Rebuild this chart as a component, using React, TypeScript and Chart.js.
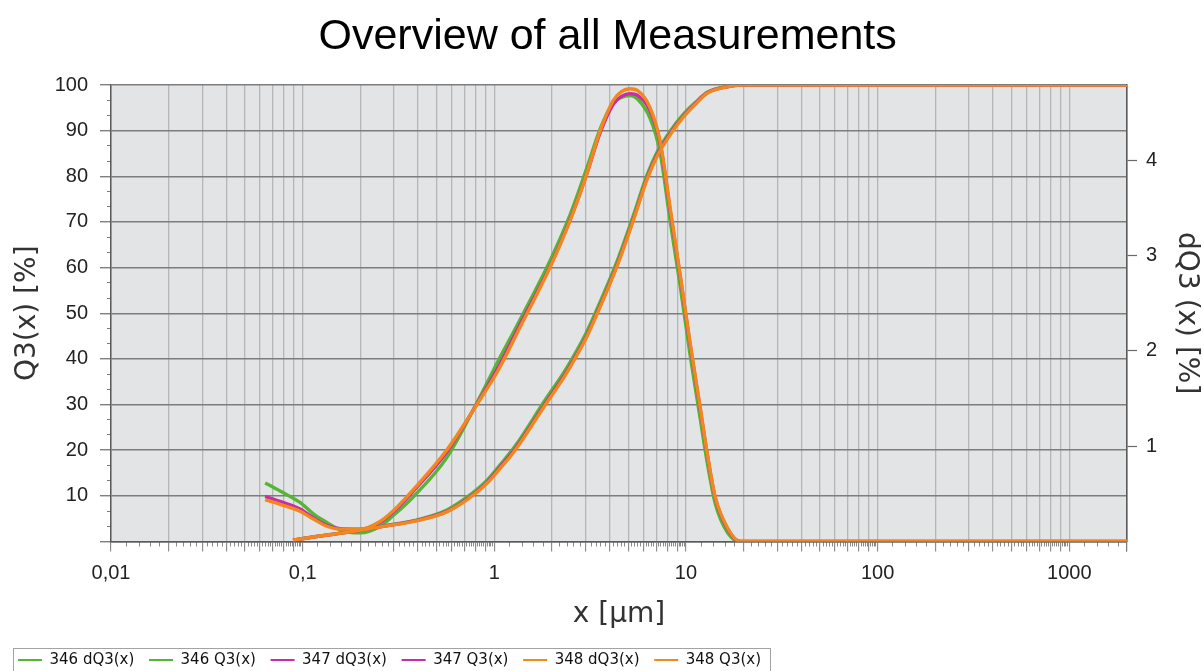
import { useEffect, useRef } from 'react';
import { Chart, registerables } from 'chart.js';

Chart.register(...registerables);

// ---------- texts ----------
const TITLE = 'Overview of all Measurements';
const X_TITLE = 'x [µm]';
const Y_LEFT_TITLE = 'Q3(x) [%]';
const Y_RIGHT_TITLE = 'dQ3 (x) [%]';
const SERIES_LABELS = ['346 dQ3(x)', '346 Q3(x)', '347 dQ3(x)', '347 Q3(x)', '348 dQ3(x)', '348 Q3(x)'];
const SERIES_COLORS = ['#55b535', '#55b535', '#c92ca4', '#c92ca4', '#f3871f', '#f3871f'];

// ---------- axes ----------
const X_MIN = 0.01;
const X_MAX = 2000;
const X_DECADES = [0.01, 0.1, 1, 10, 100, 1000];
const X_GRID_MULTIPLES = [1, 2, 3, 4, 5, 6, 7, 8, 9];
const X_MINOR_FRACTIONS = [0.2, 0.4, 0.6, 0.8];
const Y_LEFT_TICKS = [0, 10, 20, 30, 40, 50, 60, 70, 80, 90, 100];
const Y_LEFT_SUBDIVISIONS = 3;
const Y_RIGHT_MAX = 4.79;
const Y_RIGHT_TICKS = [1, 2, 3, 4];

// ---------- data: density dQ3 (right axis) ----------
const DQ3_X = [0.0637, 0.0762, 0.0969, 0.1137, 0.1336, 0.157, 0.2, 0.2535, 0.3, 0.378, 0.565, 0.843, 1.05, 1.364, 1.956, 2.487, 3.04, 3.566, 4.18, 4.6, 5.1, 5.6, 6.5, 7.33, 8.27, 9.33, 10.5, 11.86, 12.9, 14.2, 16.4, 19.2, 2000];
const DQ3_346 = [0.615, 0.53, 0.41, 0.29, 0.2, 0.12, 0.09, 0.16, 0.28, 0.47, 0.88, 1.52, 1.9, 2.33, 2.95, 3.43, 3.92, 4.33, 4.6, 4.66, 4.68, 4.64, 4.44, 4.08, 3.36, 2.68, 1.96, 1.29, 0.83, 0.4, 0.1, 0, 0];
const DQ3_347 = [0.474, 0.42, 0.34, 0.25, 0.17, 0.135, 0.13, 0.2, 0.32, 0.53, 0.94, 1.5, 1.83, 2.28, 2.89, 3.38, 3.86, 4.29, 4.59, 4.67, 4.7, 4.68, 4.52, 4.18, 3.47, 2.78, 2.07, 1.39, 0.92, 0.46, 0.14, 0, 0];
const DQ3_348 = [0.44, 0.39, 0.317, 0.235, 0.16, 0.13, 0.13, 0.21, 0.33, 0.545, 0.96, 1.49, 1.8, 2.25, 2.88, 3.37, 3.86, 4.31, 4.63, 4.72, 4.75, 4.73, 4.55, 4.2, 3.5, 2.8, 2.09, 1.41, 0.93, 0.47, 0.15, 0, 0];

// ---------- data: cumulative Q3 (left axis) ----------
const Q3_X = [0.089, 0.123, 0.177, 0.2535, 0.41, 0.565, 0.719, 0.914, 1.072, 1.284, 1.842, 2.294, 2.487, 3.0, 3.4, 4.36, 5.32, 6.25, 7.05, 8.3, 9.7, 11.2, 12.9, 16.4, 19.2, 2000];
const Q3_346 = [0.3, 1.2, 2.1, 3.3, 4.9, 6.9, 9.7, 13.4, 16.8, 20.9, 31.0, 36.9, 39.3, 45.5, 50.5, 61.3, 71.5, 80.2, 85.2, 90.0, 93.6, 96.2, 98.4, 99.7, 100, 100];
const Q3_347 = [0.3, 1.2, 2.1, 3.2, 4.8, 6.6, 9.3, 12.9, 16.3, 20.3, 30.2, 36.1, 38.5, 44.7, 49.7, 60.5, 70.7, 79.5, 84.6, 89.5, 93.2, 95.9, 98.3, 99.6, 100, 100];
const Q3_348 = [0.3, 1.2, 2.1, 3.2, 4.7, 6.5, 9.1, 12.7, 16.0, 20.0, 29.9, 35.8, 38.2, 44.4, 49.4, 60.2, 70.4, 79.2, 84.3, 89.2, 93, 95.8, 98.2, 99.6, 100, 100];

const SERIES = [
  { xs: DQ3_X, ys: DQ3_346, axis: 'y1', order: 3 },
  { xs: Q3_X, ys: Q3_346, axis: 'y', order: 3 },
  { xs: DQ3_X, ys: DQ3_347, axis: 'y1', order: 2 },
  { xs: Q3_X, ys: Q3_347, axis: 'y', order: 2 },
  { xs: DQ3_X, ys: DQ3_348, axis: 'y1', order: 1 },
  { xs: Q3_X, ys: Q3_348, axis: 'y', order: 1 },
];

// ---------- derived tick lists ----------
const X_GRID_TICKS: number[] = [];
const X_MINOR_TICKS: number[] = [];
X_DECADES.forEach((d) => {
  X_GRID_MULTIPLES.forEach((m) => {
    const v = m * d;
    if (v <= X_MAX) X_GRID_TICKS.push(v);
    X_MINOR_FRACTIONS.forEach((f) => {
      const w = (m + f) * d;
      if (w <= X_MAX) X_MINOR_TICKS.push(w);
    });
  });
});
X_GRID_TICKS.push(X_MAX);

const Y_MINOR_TICKS: number[] = [];
for (let i = 0; i < Y_LEFT_TICKS.length - 1; i++) {
  const a = Y_LEFT_TICKS[i];
  const b = Y_LEFT_TICKS[i + 1];
  for (let k = 1; k < Y_LEFT_SUBDIVISIONS; k++) Y_MINOR_TICKS.push(a + ((b - a) * k) / Y_LEFT_SUBDIVISIONS);
}

const findDecade = (v: number) => X_DECADES.find((d) => Math.abs(d - v) / d < 1e-9);
const decadeLabel = (v: number) => {
  const d = findDecade(v);
  return d === undefined ? '' : String(d).replace('.', ',');
};

const TICK_FONT = { family: "'Liberation Sans', Arial, sans-serif", size: 20 };
const AXIS_TITLE_FONT = { family: "'DejaVu Sans', sans-serif", size: 28 };
const LEGEND_FONT = { family: "'DejaVu Sans', sans-serif", size: 15 };

const plotBackground = {
  id: 'plotBackground',
  beforeDraw(chart: any) {
    const { ctx, chartArea: a } = chart;
    ctx.save();
    ctx.fillStyle = '#e3e4e5';
    ctx.fillRect(a.left, a.top, a.right - a.left, a.bottom - a.top);
    ctx.restore();
  },
};

const legendFrame = {
  id: 'legendFrame',
  afterDraw(chart: any) {
    const lg = chart.legend;
    const hb = lg && lg.legendHitBoxes;
    if (!hb || !hb.length) return;
    const first = hb[0];
    const last = hb[hb.length - 1];
    const left = Math.round(first.left - 5) + 0.5;
    const right = Math.round(last.left + last.width + 9) + 0.5;
    const top = Math.round(lg.top + 10) + 0.5;
    const ctx = chart.ctx;
    ctx.save();
    ctx.strokeStyle = '#a3a3a3';
    ctx.lineWidth = 1;
    ctx.strokeRect(left, top, right - left, 80);
    ctx.restore();
  },
};

export default function App() {
  const ref = useRef<HTMLCanvasElement>(null);

  useEffect(() => {
    const canvas = ref.current;
    if (!canvas) return;
    const datasets = SERIES.map((s, i) => ({
      label: SERIES_LABELS[i],
      data: s.xs.map((x, j) => ({ x, y: s.ys[j] })),
      borderColor: SERIES_COLORS[i],
      backgroundColor: SERIES_COLORS[i],
      borderWidth: 3.4,
      pointRadius: 0,
      fill: false,
      cubicInterpolationMode: 'monotone' as const,
      xAxisID: 'x',
      yAxisID: s.axis,
      order: s.order,
    }));

    const chart = new Chart(canvas, {
      type: 'line',
      data: { datasets },
      plugins: [plotBackground, legendFrame],
      options: {
        responsive: false,
        animation: false,
        devicePixelRatio: 1,
        layout: { padding: { left: 3.3, right: -8, top: 0, bottom: 22.5 } },
        plugins: {
          title: {
            display: true,
            text: TITLE,
            color: '#000',
            font: { family: "'Liberation Sans', Arial, sans-serif", size: 43, weight: 'normal' },
            padding: { top: 11.2, bottom: 22.2 },
          },
          legend: {
            position: 'bottom',
            align: 'start',
            labels: {
              font: LEGEND_FONT,
              color: '#111',
              boxWidth: 24,
              boxHeight: 2,
              padding: 14.7,
              sort: (a: any, b: any) => a.datasetIndex - b.datasetIndex,
              generateLabels: (c: any) =>
                (Chart.defaults.plugins.legend.labels.generateLabels as any)(c).map((it: any) => ({
                  ...it,
                  fillStyle: it.strokeStyle,
                  lineWidth: 0,
                })),
            },
          },
          tooltip: { enabled: false },
        },
        scales: {
          x: {
            type: 'logarithmic',
            position: 'bottom',
            weight: 1,
            min: X_MIN,
            max: X_MAX,
            afterBuildTicks: (s: any) => {
              s.ticks = X_GRID_TICKS.map((v) => ({ value: v }));
            },
            afterFit: (s: any) => {
              s.height = 96.3;
            },
            ticks: {
              autoSkip: false,
              maxRotation: 0,
              minRotation: 0,
              padding: 10,
              color: '#222',
              font: TICK_FONT,
              callback: (v: any) => decadeLabel(Number(v)),
            },
            grid: { color: '#b6b6b6', lineWidth: 1.3, drawTicks: true, tickLength: 10, tickColor: '#7a7a7a', tickWidth: 1 },
            border: { display: true, color: '#5a5a5a', width: 1.5 },
            title: { display: true, text: X_TITLE, color: '#333', font: AXIS_TITLE_FONT, padding: { top: 0, bottom: 6 } },
          },
          xMinor: {
            type: 'logarithmic',
            position: 'bottom',
            weight: 0,
            min: X_MIN,
            max: X_MAX,
            afterBuildTicks: (s: any) => {
              s.ticks = X_MINOR_TICKS.map((v) => ({ value: v }));
            },
            afterFit: (s: any) => {
              s.height = 0;
            },
            ticks: { display: false, autoSkip: false },
            grid: { drawOnChartArea: false, drawTicks: true, tickLength: 5, tickColor: '#8a8a8a', tickWidth: 1 },
            border: { display: false },
          },
          y: {
            type: 'linear',
            position: 'left',
            weight: 1,
            min: 0,
            max: 100,
            afterBuildTicks: (s: any) => {
              s.ticks = Y_LEFT_TICKS.map((v) => ({ value: v }));
            },
            afterFit: (s: any) => {
              s.width = 107.7;
            },
            ticks: { padding: 12, color: '#222', font: TICK_FONT, callback: (v: any) => (Number(v) === 0 ? '' : String(v)) },
            grid: { color: '#7d7d7d', lineWidth: 1.5, drawTicks: true, tickLength: 11, tickColor: '#6a6a6a', tickWidth: 1.2 },
            border: { display: true, color: '#5a5a5a', width: 1.5 },
            title: { display: true, text: Y_LEFT_TITLE, color: '#333', font: AXIS_TITLE_FONT, padding: { top: 7.4, bottom: 0 } },
          },
          yMinor: {
            type: 'linear',
            position: 'left',
            weight: 0,
            min: 0,
            max: 100,
            afterBuildTicks: (s: any) => {
              s.ticks = Y_MINOR_TICKS.map((v) => ({ value: v }));
            },
            afterFit: (s: any) => {
              s.width = 0;
            },
            ticks: { display: false },
            grid: { drawOnChartArea: false, drawTicks: true, tickLength: 4, tickColor: '#7a7a7a', tickWidth: 1 },
            border: { display: false },
          },
          y1: {
            type: 'linear',
            position: 'right',
            min: 0,
            max: Y_RIGHT_MAX,
            afterBuildTicks: (s: any) => {
              s.ticks = Y_RIGHT_TICKS.map((v) => ({ value: v }));
            },
            afterFit: (s: any) => {
              s.width = 85;
            },
            ticks: { padding: 9, color: '#222', font: TICK_FONT },
            grid: { drawOnChartArea: false, drawTicks: true, tickLength: 10, tickColor: '#6a6a6a', tickWidth: 1.2 },
            border: { display: true, color: '#5a5a5a', width: 1.5 },
            title: { display: true, text: Y_RIGHT_TITLE, color: '#333', font: AXIS_TITLE_FONT, padding: { top: 9.2, bottom: 0 } },
          },
        },
      } as any,
    });
    return () => chart.destroy();
  }, []);

  return (
    <div style={{ position: 'absolute', left: 0, top: 0, width: 1204, height: 671, overflow: 'hidden', background: '#fff' }}>
      <canvas ref={ref} width={1204} height={700} style={{ display: 'block', width: 1204, height: 700 }} />
    </div>
  );
}
